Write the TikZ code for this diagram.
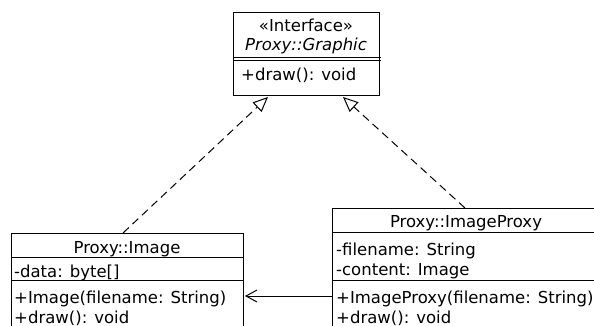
\documentclass[tikz,border=0pt]{standalone}
\usepackage{fontspec}
\setmainfont{DejaVu Sans}
\usetikzlibrary{arrows.meta,calc}

\tikzset{
  classbox/.style={draw, line width=1pt, rectangle, inner sep=0pt, anchor=north west, fill=white},
  member/.style={anchor=base west, inner sep=0pt, font=\fontsize{16.5}{20}\selectfont},
  title/.style={anchor=base, inner sep=0pt, font=\fontsize{16.5}{20}\selectfont},
  divider/.style={line width=1pt},
  realize/.style={line width=1pt, dash pattern=on 8pt off 5pt,
    -{Triangle[open, length=15pt, width=13pt, fill=white]}},
  assoc/.style={line width=1pt, -{Straight Barb[length=11pt, width=12pt]}}
}

\begin{document}
\begin{tikzpicture}[x=1pt, y=-1pt]
\useasboundingbox (0,0) rectangle (594,326);
\clip (0,0) rectangle (594,326);

% interface Proxy::Graphic
\node[classbox, minimum width=146pt, minimum height=83pt] (iface) at (233,12) {};
\node[title] (ifstereo) at (306,32) {«Interface»};
\node[title] (ifname) at (306,51) {\itshape Proxy::Graphic};
\draw[divider] ($(iface.north west)+(0,45.5)$) -- ++(148,0);
\draw[divider] ($(iface.north west)+(0,49)$) -- ++(148,0);
\node[member] (ifop) at (241,81) {+draw(): void};

% class Proxy::Image
\node[classbox, minimum width=232pt, minimum height=110pt] (img) at (11,233) {};
\node[title] (imgname) at (127,253) {Proxy::Image};
\draw[divider] ($(img.north west)+(0,24)$) -- ++(232,0);
\node[member] (imgattr) at (14,277) {-data: byte[]};
\draw[divider] ($(img.north west)+(0,47.5)$) -- ++(232,0);
\node[member] (imgop1) at (14,303.5) {+Image(filename: String)};
\node[member] (imgop2) at (14,323) {+draw(): void};

% class Proxy::ImageProxy
\node[classbox, minimum width=268pt, minimum height=135pt] (proxy) at (332,208) {};
\node[title] (proxyname) at (466,227.5) {Proxy::ImageProxy};
\draw[divider] ($(proxy.north west)+(0,24)$) -- ++(268,0);
\node[member] (proxyattr1) at (336,255) {-filename: String};
\node[member] (proxyattr2) at (336,275) {-content: Image};
\draw[divider] ($(proxy.north west)+(0,72.5)$) -- ++(268,0);
\node[member] (proxyop1) at (336,303.5) {+ImageProxy(filename: String)};
\node[member] (proxyop2) at (336,323) {+draw(): void};

% realizations of the interface
\draw[realize] ($(img.north west)+(112,0)$) -- ($(iface.south west)+(35,1)$);
\draw[realize] ($(proxy.north west)+(133,0)$) -- ($(iface.south west)+(110,1)$);

% the proxy holds its real image
\draw[assoc] ($(proxy.north west)+(0,88)$) -- ($(img.north east)+(1,63)$);
\end{tikzpicture}
\end{document}
